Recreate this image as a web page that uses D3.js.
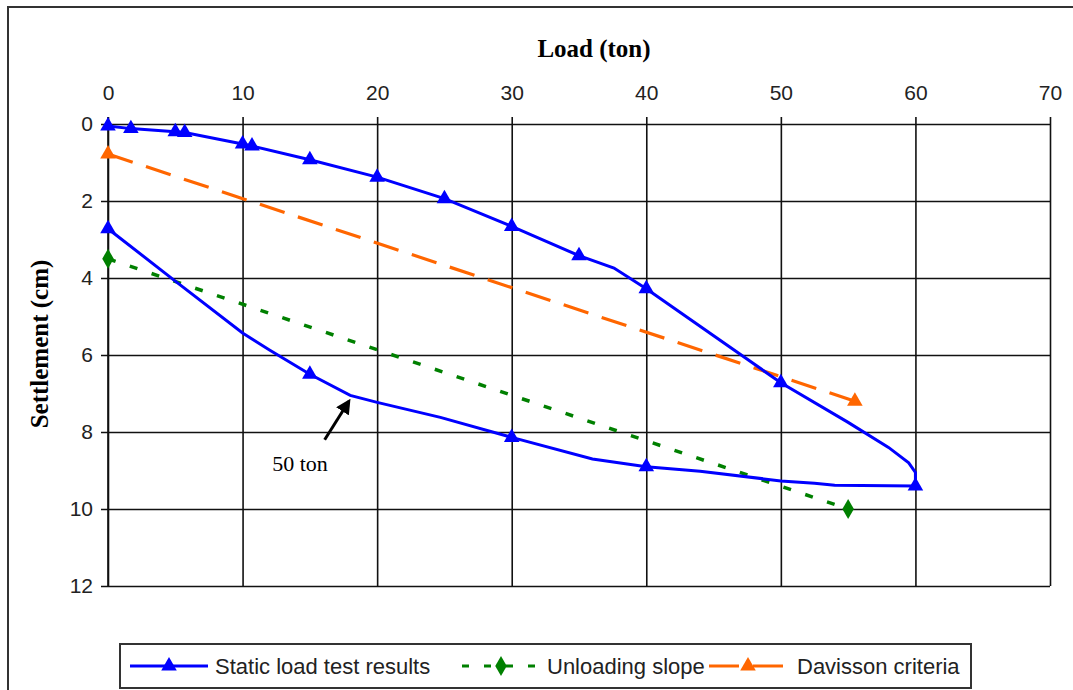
<!DOCTYPE html>
<html>
<head>
<meta charset="utf-8">
<script src="https://cdn.jsdelivr.net/npm/d3@7"></script>
<style>
  body { margin: 0; background: #fff; }
  svg { display: block; }
</style>
</head>
<body>
<div id="chart"></div>
<script>
// load (ton) / settlement (cm)
var staticLoad   = [0, 1.7, 5, 5.7, 10, 10.7, 15, 20, 25, 30, 35, 37.6, 40, 50, 55, 58, 59.5, 60, 60, 54, 52.5, 50, 44, 40, 36, 30, 24.7, 20, 18, 15, 12, 10, 5, 0];
var staticSettle = [0.05, 0.12, 0.2, 0.22, 0.52, 0.57, 0.93, 1.38, 1.94, 2.66, 3.42, 3.74, 4.28, 6.72, 7.75, 8.4, 8.8, 9.05, 9.4, 9.38, 9.33, 9.27, 9.02, 8.9, 8.7, 8.14, 7.62, 7.23, 7.05, 6.5, 5.87, 5.43, 4.08, 2.72];
// which of the points above carry a triangle marker
var staticMarked = [1, 1, 1, 1, 1, 1, 1, 1, 1, 1, 1, 0, 1, 1, 0, 0, 0, 0, 1, 0, 0, 0, 0, 1, 0, 1, 0, 0, 0, 1, 0, 0, 0, 1];

var unloadLoad   = [0, 55];
var unloadSettle = [3.5, 10];

var davLoad   = [0, 55.5];
var davSettle = [0.78, 7.2];

var xTicks = [0, 10, 20, 30, 40, 50, 60, 70];
var yTicks = [0, 2, 4, 6, 8, 10, 12];

(function() {
  var W = 1073, H = 690;
  var pLeft = 108, pTop = 124, pRight = 1050, pBottom = 586;

  var svg = d3.select("#chart").append("svg")
    .attr("width", W)
    .attr("height", H);

  // outer chart frame (runs off the right and bottom edge)
  svg.append("rect")
    .attr("x", 8).attr("y", 7)
    .attr("width", 1100).attr("height", 720)
    .attr("fill", "none")
    .attr("stroke", "#333")
    .attr("stroke-width", 2);

  var x = d3.scaleLinear().domain([0, 70]).range([pLeft, pRight]);
  var y = d3.scaleLinear().domain([0, 12]).range([pTop, pBottom]);

  // gridlines + labels
  var xAxis = svg.append("g")
    .attr("transform", "translate(0," + pTop + ")")
    .call(d3.axisTop(x).tickValues(xTicks).tickSize(0).tickPadding(24));
  xAxis.select(".domain").remove();
  xAxis.selectAll(".tick line")
    .attr("y1", -7).attr("y2", pBottom - pTop)
    .attr("stroke", "#111").attr("stroke-width", 1.6);

  var yAxis = svg.append("g")
    .attr("transform", "translate(" + pLeft + ",0)")
    .call(d3.axisLeft(y).tickValues(yTicks).tickSize(0).tickPadding(15));
  yAxis.select(".domain").remove();
  yAxis.selectAll(".tick line")
    .attr("x1", -7).attr("x2", pRight - pLeft)
    .attr("stroke", "#111").attr("stroke-width", 1.6);

  svg.selectAll(".tick text")
    .attr("font-family", "'Liberation Sans', Arial, sans-serif")
    .attr("font-size", 21)
    .attr("fill", "#222");

  // left axis line
  svg.append("line")
    .attr("x1", pLeft).attr("x2", pLeft)
    .attr("y1", pTop - 7).attr("y2", pBottom)
    .attr("stroke", "#111").attr("stroke-width", 1.6);

  // axis titles
  svg.append("text")
    .attr("x", 594).attr("y", 57)
    .attr("text-anchor", "middle")
    .attr("font-family", "'Liberation Serif', 'Times New Roman', serif")
    .attr("font-weight", "bold")
    .attr("font-size", 25)
    .text("Load (ton)");

  svg.append("text")
    .attr("transform", "translate(48,344) rotate(-90)")
    .attr("text-anchor", "middle")
    .attr("font-family", "'Liberation Serif', 'Times New Roman', serif")
    .attr("font-weight", "bold")
    .attr("font-size", 25)
    .text("Settlement (cm)");

  var line = d3.line()
    .x(function(d) { return x(d[0]); })
    .y(function(d) { return y(d[1]); });

  var staticPts = d3.zip(staticLoad, staticSettle);
  var unloadPts = d3.zip(unloadLoad, unloadSettle);
  var davPts = d3.zip(davLoad, davSettle);

  var tri = d3.symbol().type(d3.symbolTriangle).size(105);
  var dia = d3.symbol().type(d3.symbolDiamond).size(115);

  // Davisson criteria
  svg.append("path")
    .datum(davPts)
    .attr("d", line)
    .attr("fill", "none")
    .attr("stroke", "#ff6600")
    .attr("stroke-width", 3.2)
    .attr("stroke-dasharray", "26,14");
  svg.selectAll(".davMark")
    .data(davPts).enter()
    .append("path")
    .attr("class", "davMark")
    .attr("d", tri)
    .attr("transform", function(d) { return "translate(" + x(d[0]) + "," + y(d[1]) + ")"; })
    .attr("fill", "#ff6600");

  // unloading slope
  svg.append("path")
    .datum(unloadPts)
    .attr("d", line)
    .attr("fill", "none")
    .attr("stroke", "#008000")
    .attr("stroke-width", 3.5)
    .attr("stroke-dasharray", "8,15");
  svg.selectAll(".unMark")
    .data(unloadPts).enter()
    .append("path")
    .attr("class", "unMark")
    .attr("d", dia)
    .attr("transform", function(d) { return "translate(" + x(d[0]) + "," + y(d[1]) + ")"; })
    .attr("fill", "#008000");

  // static load test
  svg.append("path")
    .datum(staticPts)
    .attr("d", line)
    .attr("fill", "none")
    .attr("stroke", "#0000ff")
    .attr("stroke-width", 3);
  svg.selectAll(".stMark")
    .data(staticPts.filter(function(d, i) { return staticMarked[i]; })).enter()
    .append("path")
    .attr("class", "stMark")
    .attr("d", tri)
    .attr("transform", function(d) { return "translate(" + x(d[0]) + "," + y(d[1]) + ")"; })
    .attr("fill", "#0000ff");

  // annotation "50 ton"
  var arrowFrom = [16.1, 8.2], arrowTo = [17.9, 7.2];
  svg.append("defs").append("marker")
    .attr("id", "head")
    .attr("viewBox", "0 0 10 10")
    .attr("refX", 8).attr("refY", 5)
    .attr("markerWidth", 5).attr("markerHeight", 5)
    .attr("orient", "auto")
    .append("path")
    .attr("d", "M0,0 L10,5 L0,10 z")
    .attr("fill", "#000");
  svg.append("line")
    .attr("x1", x(arrowFrom[0])).attr("y1", y(arrowFrom[1]))
    .attr("x2", x(arrowTo[0])).attr("y2", y(arrowTo[1]))
    .attr("stroke", "#000").attr("stroke-width", 3)
    .attr("marker-end", "url(#head)");
  svg.append("text")
    .attr("x", x(12.2)).attr("y", y(9.0))
    .attr("font-family", "'Liberation Serif', 'Times New Roman', serif")
    .attr("font-size", 22)
    .text("50 ton");

  // legend
  var lg = svg.append("g");
  lg.append("rect")
    .attr("x", 120).attr("y", 644)
    .attr("width", 851).attr("height", 44)
    .attr("fill", "#fff")
    .attr("stroke", "#333").attr("stroke-width", 2);

  var legendItems = [
    { name: "Static load test results", color: "#0000ff", dash: null, sym: tri, x0: 130, tx: 215 },
    { name: "Unloading slope", color: "#008000", dash: "7,15", sym: dia, x0: 462, tx: 547 },
    { name: "Davisson criteria", color: "#ff6600", dash: "30,14", sym: tri, x0: 709, tx: 797 }
  ];
  var ly = 666;
  legendItems.forEach(function(it) {
    lg.append("line")
      .attr("x1", it.x0).attr("x2", it.x0 + 78)
      .attr("y1", ly).attr("y2", ly)
      .attr("stroke", it.color)
      .attr("stroke-width", 3)
      .attr("stroke-dasharray", it.dash);
    lg.append("path")
      .attr("d", it.sym)
      .attr("transform", "translate(" + (it.x0 + 39) + "," + ly + ")")
      .attr("fill", it.color);
    lg.append("text")
      .attr("x", it.tx).attr("y", ly + 8)
      .attr("font-family", "'Liberation Sans', Arial, sans-serif")
      .attr("font-size", 22)
      .attr("fill", "#222")
      .text(it.name);
  });
})();
</script>
</body>
</html>
